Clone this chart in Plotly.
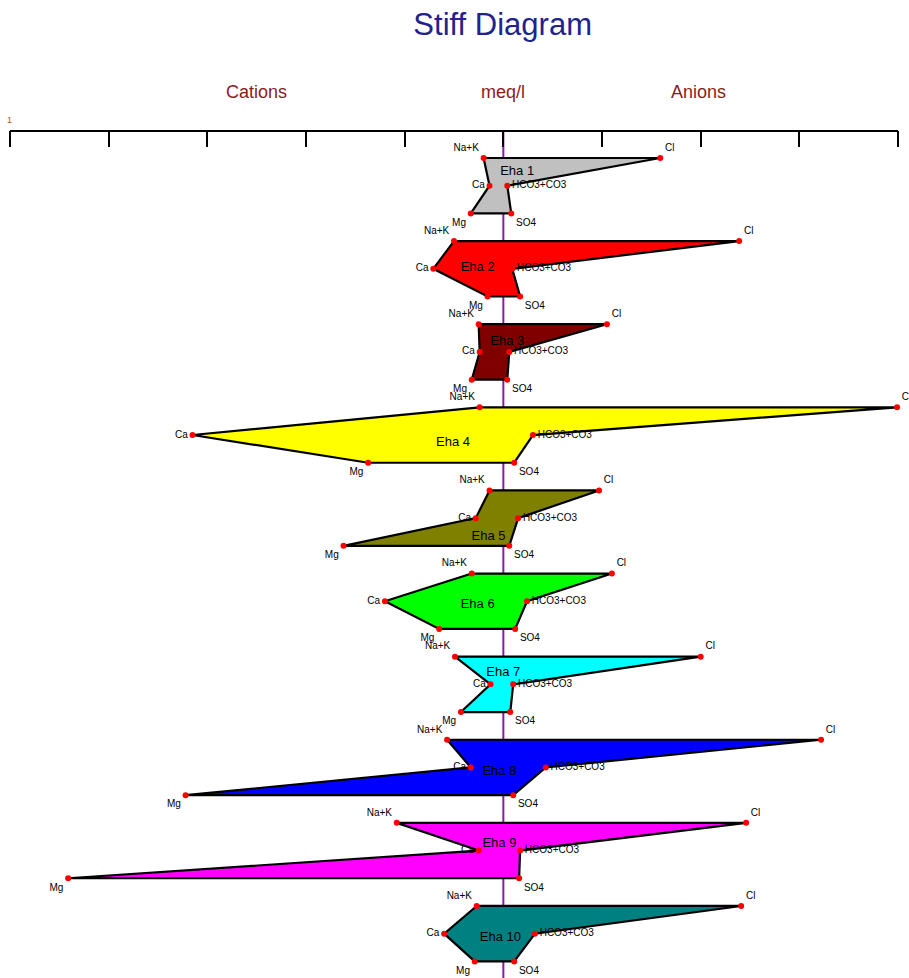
import plotly.graph_objects as go

# ---------------- data (meq/l) ----------------
samples = ["Eha 1", "Eha 2", "Eha 3", "Eha 4", "Eha 5",
           "Eha 6", "Eha 7", "Eha 8", "Eha 9", "Eha 10"]
na_k = [0.20, 0.50, 0.25, 0.24, 0.14, 0.32, 0.49, 0.57, 1.08, 0.27]
ca   = [0.14, 0.71, 0.24, 3.15, 0.28, 1.20, 0.13, 0.33, 0.25, 0.60]
mg   = [0.33, 0.16, 0.32, 1.37, 1.62, 0.65, 0.43, 3.22, 4.41, 0.29]
cl   = [1.59, 2.39, 1.05, 3.99, 0.97, 1.10, 2.00, 3.22, 2.46, 2.41]
hco3 = [0.04, 0.09, 0.06, 0.30, 0.15, 0.24, 0.10, 0.43, 0.17, 0.32]
so4  = [0.08, 0.17, 0.04, 0.11, 0.06, 0.12, 0.07, 0.10, 0.16, 0.11]

# sample-name label placement (meq/l offset, row offset inside the glyph)
label_dx = [0.14, -0.26, 0.04, -0.51, -0.15, -0.26, 0.00, -0.04, -0.04, -0.03]
label_dy = [0.50, 0.97, 0.64, 1.29, 1.68, 1.14, 0.58, 1.17, 0.77, 1.16]

colors = ["#C0C0C0", "#FF0000", "#800000", "#FFFF00", "#808000",
          "#00FF00", "#00FFFF", "#0000FF", "#FF00FF", "#008080"]

ion_names = ["Na+K", "Cl", "HCO3+CO3", "SO4", "Mg", "Ca"]
ion_pos = ["top left", "top right", "middle right", "bottom right",
           "bottom left", "middle left"]

X_MIN, X_MAX = -5, 4
FONT = "Liberation Sans, Arial, sans-serif"

fig = go.Figure()

label_x, label_y = [], []
for i, name in enumerate(samples):
    base = 3 * i
    xs = [-na_k[i], cl[i], hco3[i], so4[i], -mg[i], -ca[i]]
    ys = [base, base, base + 1, base + 2, base + 2, base + 1]
    fig.add_trace(go.Scatter(
        x=xs + [xs[0]], y=ys + [ys[0]], mode="lines", fill="toself",
        fillcolor=colors[i], line=dict(color="black", width=2.2),
        hoverinfo="skip", showlegend=False))
    fig.add_trace(go.Scatter(
        x=xs, y=ys, mode="markers+text", text=ion_names,
        textposition=ion_pos, cliponaxis=False,
        textfont=dict(family=FONT, size=10, color="black"),
        marker=dict(color="red", size=6), showlegend=False))
    label_x.append(label_dx[i])
    label_y.append(base + label_dy[i])

fig.add_trace(go.Scatter(
    x=label_x, y=label_y, mode="text", text=samples,
    textfont=dict(family=FONT, size=13, color="black"),
    showlegend=False, hoverinfo="skip"))

# centre (zero) line and the top scale line
fig.add_shape(type="line", xref="x", yref="y", x0=0, x1=0,
              y0=-0.975, y1=29.6, layer="below",
              line=dict(color="#8B1AA8", width=2))
fig.add_shape(type="line", xref="x", yref="paper", x0=X_MIN, x1=X_MAX,
              y0=1, y1=1, line=dict(color="black", width=2))

hdr_y = 1 + (131 - 92) / 847
for txt, xv in [("Cations", -2.5), ("meq/l", 0.0), ("Anions", 1.98)]:
    fig.add_annotation(text=txt, x=xv, xref="x", y=hdr_y, yref="paper",
                       showarrow=False, xanchor="center", yanchor="middle",
                       font=dict(family=FONT, size=18, color="#8B1A1A"))
fig.add_annotation(text="1", x=X_MIN, xref="x", y=1 + (131 - 120) / 847,
                   yref="paper", showarrow=False, xanchor="center",
                   yanchor="middle",
                   font=dict(family=FONT, size=9, color="#B05A1E"))

fig.update_layout(
    width=909, height=978,
    margin=dict(l=5, r=6, t=131, b=0),
    paper_bgcolor="white", plot_bgcolor="white",
    showlegend=False,
    title=dict(text="Stiff Diagram", x=0.553, xanchor="center",
               y=1 - 24 / 978, yref="container", yanchor="middle",
               font=dict(family=FONT, size=31, color="#22228F")),
    xaxis=dict(range=[X_MIN - 0.05, X_MAX + 0.05], side="top",
               showline=False, ticks="inside", ticklen=16,
               tickwidth=2, tickcolor="black", tick0=0, dtick=1,
               showticklabels=False, showgrid=False, zeroline=False,
               fixedrange=True),
    yaxis=dict(range=[29.6, -0.975], visible=False, showgrid=False,
               zeroline=False, fixedrange=True),
)

fig.write_html("out.html")
